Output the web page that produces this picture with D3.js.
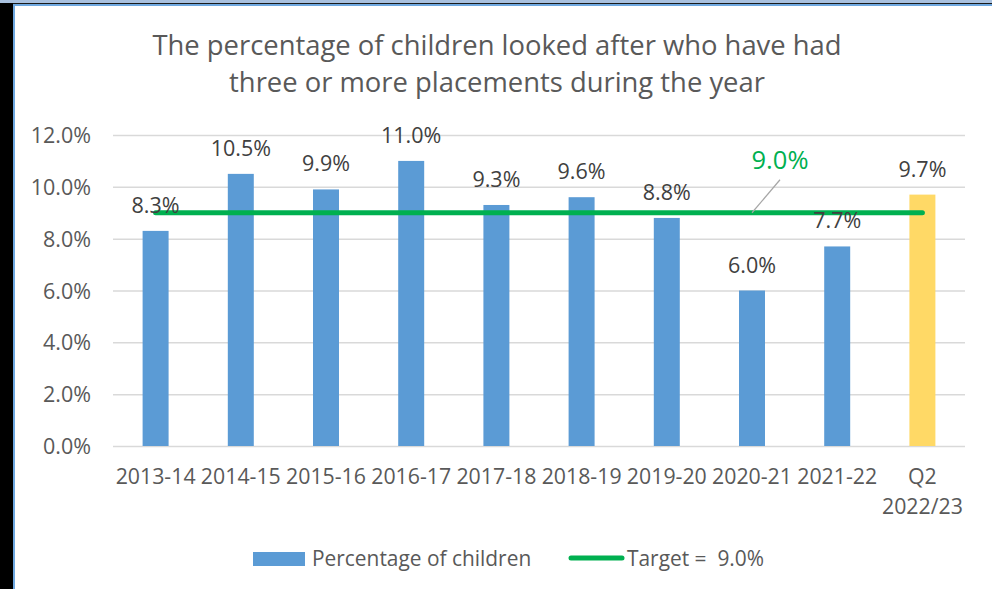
<!DOCTYPE html>
<html>
<head>
<meta charset="utf-8">
<script src="https://cdn.jsdelivr.net/npm/d3@7"></script>
<style>
	html, body { margin: 0; padding: 0; background: #fff; }
	svg { display: block; font-family: "Open Sans", "Noto Sans", sans-serif; }
</style>
</head>
<body>
<div id="chart"></div>
<script>
// data
var categories = ['2013-14', '2014-15', '2015-16', '2016-17', '2017-18', '2018-19', '2019-20', '2020-21', '2021-22', 'Q2\n2022/23'];
var values = [8.3, 10.5, 9.9, 11.0, 9.3, 9.6, 8.8, 6.0, 7.7, 9.7];
var target = 9.0;
var yTicks = [0, 2, 4, 6, 8, 10, 12];
var titleLines = ['The percentage of children looked after who have had', 'three or more placements during the year'];

var W = 992, H = 589;
var area = { l: 113, r: 965, t: 135, b: 446 };
var font = '"Open Sans", sans-serif';

var svg = d3.select('#chart').append('svg').attr('width', W).attr('height', H);

// 外框
svg.append('rect').attr('x', 0).attr('y', 0).attr('width', W).attr('height', 3).attr('fill', '#a9c1df');
svg.append('rect').attr('x', 0).attr('y', 3).attr('width', W).attr('height', 1).attr('fill', '#1a1a1a');
svg.append('rect').attr('x', 0).attr('y', 3).attr('width', 13).attr('height', H).attr('fill', '#000');
svg.append('rect').attr('x', 13).attr('y', 4).attr('width', W - 13).attr('height', 2).attr('fill', '#6fa8e0');
svg.append('rect').attr('x', 13).attr('y', 4).attr('width', 2).attr('height', H).attr('fill', '#6fa8e0');

// 标题
svg.append('g').selectAll('text').data(titleLines).join('text')
	.attr('x', 497).attr('y', function (d, i) { return 55 + i * 37; })
	.attr('text-anchor', 'middle').attr('fill', '#595959').attr('font-size', 27.4)
	.text(function (d) { return d; });

var x = d3.scaleBand().domain(categories).range([area.l, area.r]).paddingInner(0.695).paddingOuter(0.3475);
var y = d3.scaleLinear().domain([0, 12]).range([area.b, area.t]);

// 网格线
var yAxis = svg.append('g').attr('class', 'y-axis').attr('transform', 'translate(' + area.l + ',0)')
	.call(d3.axisLeft(y).tickValues(yTicks).tickSize(-(area.r - area.l)).tickPadding(22)
		.tickFormat(function (d) { return d3.format('.1f')(d) + '%'; }));
yAxis.select('.domain').remove();
yAxis.selectAll('line').attr('stroke', '#d9d9d9').attr('stroke-width', 1.5);
yAxis.selectAll('text').attr('fill', '#595959').attr('font-size', 21.5).attr('font-family', font).attr('dy', '0.35em');

// 柱子
svg.append('g').selectAll('rect').data(values).join('rect')
	.attr('x', function (d, i) { return x(categories[i]); })
	.attr('y', function (d) { return y(d); })
	.attr('width', x.bandwidth())
	.attr('height', function (d) { return y(0) - y(d); })
	.attr('fill', function (d, i) { return i === values.length - 1 ? '#ffd966' : '#5b9bd5'; });

// x轴标签
var xAxis = svg.append('g').attr('class', 'x-axis').attr('transform', 'translate(0,' + area.b + ')')
	.call(d3.axisBottom(x).tickSize(0).tickPadding(0).tickFormat(''));
xAxis.select('.domain').remove();
xAxis.selectAll('.tick').each(function (d) {
	var t = d3.select(this).append('text').attr('fill', '#595959').attr('font-size', 21.3)
		.attr('font-family', font).attr('text-anchor', 'middle');
	d.split('\n').forEach(function (s, i) {
		t.append('tspan').attr('x', 0).attr('y', 38 + i * 30).text(s);
	});
});

// 目标线
var x0 = x(categories[0]) + x.bandwidth() / 2;
var x1 = x(categories[categories.length - 1]) + x.bandwidth() / 2;
svg.append('line').attr('x1', x0).attr('x2', x1).attr('y1', y(target)).attr('y2', y(target))
	.attr('stroke', '#00b050').attr('stroke-width', 5).attr('stroke-linecap', 'round');

// 数据标签
svg.append('g').selectAll('text').data(values).join('text')
	.attr('x', function (d, i) { return x(categories[i]) + x.bandwidth() / 2; })
	.attr('y', function (d) { return y(d) - 18; })
	.attr('text-anchor', 'middle').attr('fill', '#404040').attr('font-size', 21.5)
	.text(function (d) { return d3.format('.1f')(d) + '%'; });

// 目标标签 + 引线
var lx = area.l + x.step() * 7.5;
svg.append('line').attr('x1', lx).attr('y1', y(target)).attr('x2', lx + 28).attr('y2', y(target) - 33)
	.attr('stroke', '#a6a6a6').attr('stroke-width', 1.2);
svg.append('text').attr('x', lx + 28).attr('y', y(target) - 44).attr('text-anchor', 'middle')
	.attr('fill', '#00b050').attr('font-size', 25.5).text(d3.format('.1f')(target) + '%');

// 图例
var lg = svg.append('g').attr('class', 'legend');
lg.append('rect').attr('x', 253).attr('y', 552).attr('width', 52).attr('height', 14).attr('fill', '#5b9bd5');
lg.append('text').attr('x', 312).attr('y', 566).attr('fill', '#595959').attr('font-size', 20.9).text('Percentage of children');
lg.append('line').attr('x1', 571).attr('x2', 622).attr('y1', 558).attr('y2', 558)
	.attr('stroke', '#00b050').attr('stroke-width', 5).attr('stroke-linecap', 'round');
lg.append('text').attr('x', 627).attr('y', 566).attr('fill', '#595959').attr('font-size', 20.9)
	.attr('xml:space', 'preserve').text('Target =  ' + d3.format('.1f')(target) + '%');
</script>
</body>
</html>
